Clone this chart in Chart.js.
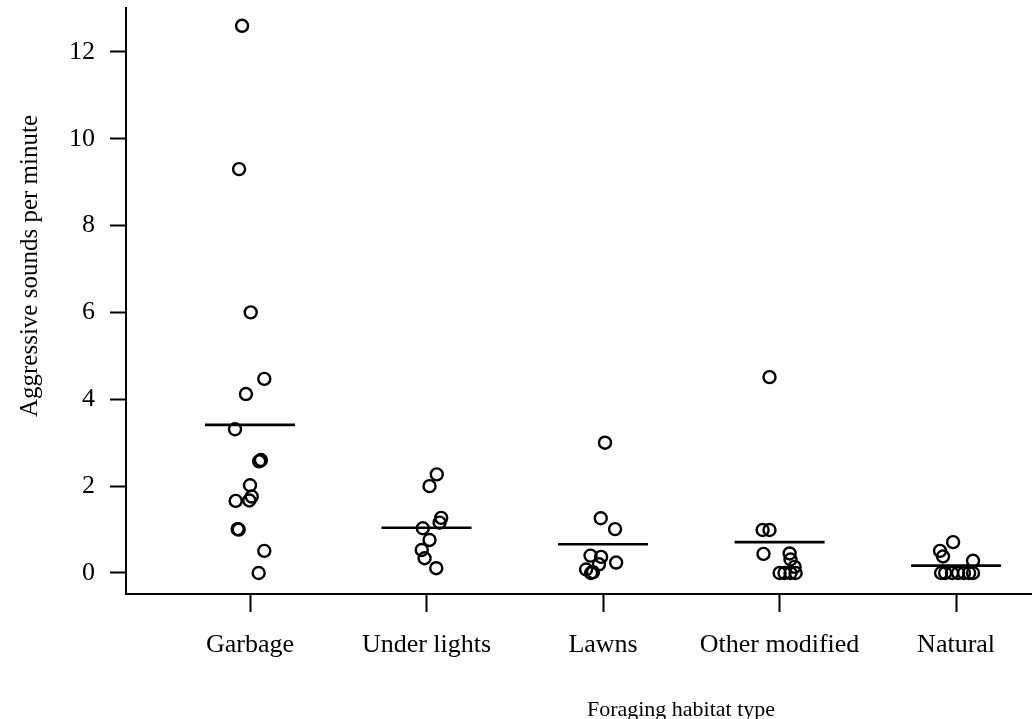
<!DOCTYPE html>
<html>
<head>
<meta charset="utf-8">
<script src="https://cdn.jsdelivr.net/npm/chart.js@4.4.1/dist/chart.umd.min.js"></script>
<style>
  html, body { margin: 0; padding: 0; background: #ffffff; }
  #wrap { width: 1032px; height: 719px; position: relative; }
</style>
</head>
<body>
<div id="wrap"><canvas id="chart"></canvas></div>
<script>
// Foraging habitat categories (x positions 1..5)
const categories = ['Garbage', 'Under lights', 'Lawns', 'Other modified', 'Natural'];

// Aggressive sounds per minute, one value per observed individual
const garbageValues  = [12.6, 9.3, 6.0, 4.47, 4.12, 3.31, 2.6, 2.57, 2.02, 1.76, 1.67, 1.66, 1.01, 1.0, 0.51, 0.0];
const lightsValues   = [2.27, 2.0, 1.27, 1.16, 1.03, 0.76, 0.53, 0.34, 0.11];
const lawnsValues    = [3.0, 1.26, 1.01, 0.40, 0.37, 0.24, 0.20, 0.08, 0.02, 0.0];
const modifiedValues = [4.51, 0.99, 0.99, 0.44, 0.45, 0.31, 0.14, 0.0, 0.0, 0.0, 0.0];
const naturalValues  = [0.71, 0.51, 0.38, 0.28, 0.0, 0.0, 0.0, 0.0, 0.0, 0.0, 0.0];

// Horizontal jitter of each point, in category units
const garbageJitter  = [-0.045, -0.062, 0.004, 0.081, -0.023, -0.085, 0.062, 0.052, 0.0, 0.01, -0.004, -0.081, -0.07, -0.064, 0.081, 0.049];
const lightsJitter   = [0.058, 0.017, 0.083, 0.074, -0.021, 0.017, -0.027, -0.011, 0.055];
const lawnsJitter    = [0.011, -0.013, 0.068, -0.071, -0.011, 0.074, -0.023, -0.096, -0.057, -0.068];
const modifiedJitter = [-0.057, -0.096, -0.057, -0.091, 0.057, 0.062, 0.085, 0.0, 0.028, 0.062, 0.091];
const naturalJitter  = [-0.017, -0.091, -0.074, 0.096, -0.085, -0.062, -0.023, 0.011, 0.045, 0.074, 0.096];

// Group means shown as horizontal bars
const groupMeans = [3.41, 1.04, 0.66, 0.71, 0.17];

// Y axis tick values
const yTicks = [0, 2, 4, 6, 8, 10, 12];

const groupValues = [garbageValues, lightsValues, lawnsValues, modifiedValues, naturalValues];
const groupJitter = [garbageJitter, lightsJitter, lawnsJitter, modifiedJitter, naturalJitter];

const FONT_FAMILY = "'Liberation Serif', 'Times New Roman', serif";
const MEAN_HALF_WIDTH = 0.255;

const pointDatasets = groupValues.map((vals, g) => ({
  label: categories[g],
  type: 'scatter',
  data: vals.map((v, i) => ({ x: g + 1 + groupJitter[g][i], y: v })),
  pointStyle: 'circle',
  pointRadius: 6,
  pointBorderWidth: 2.4,
  pointBackgroundColor: 'rgba(0,0,0,0)',
  pointBorderColor: '#000000',
  showLine: false,
  clip: false
}));

const meanDatasets = groupMeans.map((m, g) => ({
  label: categories[g] + ' mean',
  type: 'line',
  data: [{ x: g + 1 - MEAN_HALF_WIDTH, y: m }, { x: g + 1 + MEAN_HALF_WIDTH, y: m }],
  borderColor: '#000000',
  borderWidth: 2.6,
  pointRadius: 0,
  fill: false,
  tension: 0
}));

// Axis titles drawn at fixed spots beside the axes
const axisTitles = {
  id: 'axisTitles',
  afterDraw(chart) {
    const ctx = chart.ctx;
    ctx.save();
    ctx.fillStyle = '#000000';
    ctx.font = '25px ' + FONT_FAMILY;
    ctx.textAlign = 'center';
    ctx.textBaseline = 'middle';
    ctx.translate(30, 266);
    ctx.rotate(-Math.PI / 2);
    ctx.fillText('Aggressive sounds per minute', 0, 0);
    ctx.restore();

    ctx.save();
    ctx.fillStyle = '#000000';
    ctx.font = '22px ' + FONT_FAMILY;
    ctx.textAlign = 'center';
    ctx.textBaseline = 'alphabetic';
    ctx.fillText('Foraging habitat type', 681, 716);
    ctx.restore();
  }
};

new Chart(document.getElementById('chart'), {
  type: 'scatter',
  data: { datasets: [...meanDatasets, ...pointDatasets] },
  plugins: [axisTitles],
  options: {
    responsive: true,
    maintainAspectRatio: false,
    animation: false,
    devicePixelRatio: 1,
    layout: { autoPadding: false, padding: { top: 8, right: 0, bottom: 0, left: 0 } },
    plugins: {
      legend: { display: false },
      tooltip: { enabled: false },
      title: { display: false }
    },
    scales: {
      x: {
        type: 'linear',
        min: 0.2975,
        max: 5.43,
        afterBuildTicks: (s) => { s.ticks = categories.map((_, i) => ({ value: i + 1 })); },
        afterFit: (s) => { s.height = 125; s.paddingLeft = 0; s.paddingRight = 0; },
        border: { display: true, color: '#000000', width: 2 },
        grid: { drawOnChartArea: false, drawTicks: true, tickLength: 18, tickColor: '#000000', tickWidth: 2 },
        ticks: {
          autoSkip: false,
          maxRotation: 0,
          color: '#000000',
          padding: 18,
          font: { family: FONT_FAMILY, size: 26 },
          callback: (v) => categories[Math.round(v) - 1]
        }
      },
      y: {
        type: 'linear',
        min: -0.484,
        max: 13.01,
        afterBuildTicks: (s) => { s.ticks = yTicks.map(v => ({ value: v })); },
        afterFit: (s) => { s.width = 126; s.paddingTop = 0; s.paddingBottom = 0; },
        border: { display: true, color: '#000000', width: 2 },
        grid: { drawOnChartArea: false, drawTicks: true, tickLength: 16, tickColor: '#000000', tickWidth: 2 },
        ticks: {
          color: '#000000',
          padding: 15,
          font: { family: FONT_FAMILY, size: 26 },
          callback: (v) => String(v)
        }
      }
    }
  }
});
</script>
</body>
</html>
